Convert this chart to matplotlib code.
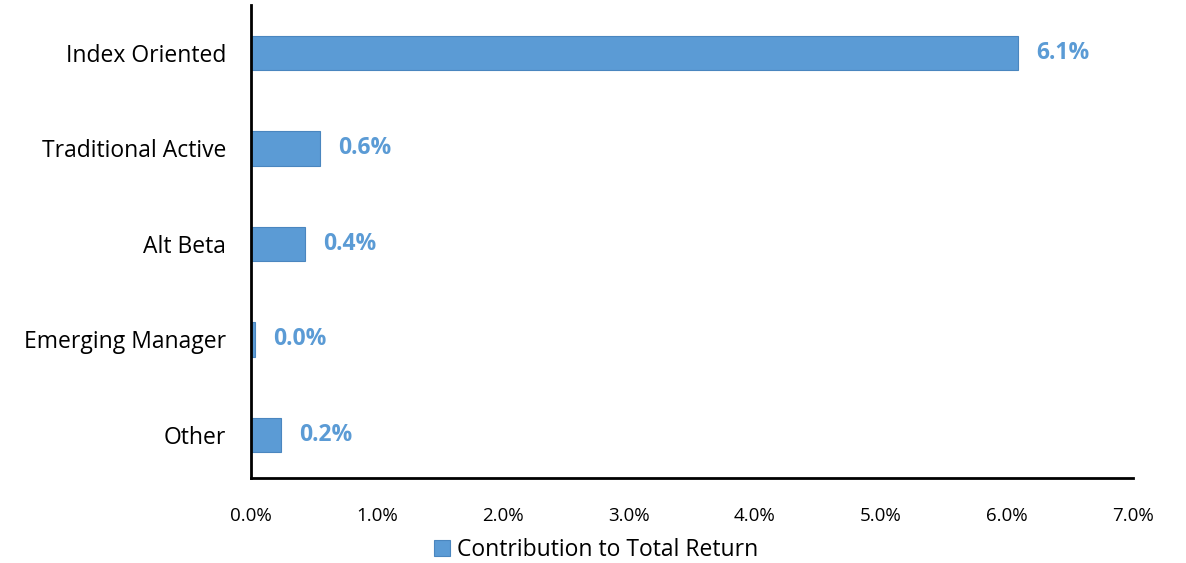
import matplotlib.pyplot as plt
from matplotlib.ticker import FuncFormatter

plt.rcParams['font.family'] = ['Open Sans', 'DejaVu Sans']

categories = ['Index Oriented', 'Traditional Active', 'Alt Beta', 'Emerging Manager', 'Other']
values = [6.09, 0.55, 0.43, 0.03, 0.24]
labels = ['6.1%', '0.6%', '0.4%', '0.0%', '0.2%']

blue = '#5B9BD5'

fig = plt.figure(figsize=(11.86, 5.63), dpi=100)
ax = fig.add_axes([0.2116, 0.151, 0.7437, 0.84])

pos = list(range(len(categories)))[::-1]
bars = ax.barh(pos, values, height=0.36, color=blue, edgecolor='#4A86BF',
               linewidth=0.8, label='Contribution to Total Return')

for b, lab in zip(bars, labels):
    ax.annotate(lab, (b.get_width(), b.get_y() + b.get_height() / 2),
                xytext=(13, 0), textcoords='offset points', va='center', ha='left',
                color=blue, fontsize=16.5, fontweight='bold')

ax.set_yticks(pos)
ax.set_yticklabels(categories, fontsize=16.5)
ax.set_ylim(-0.45, 4.5)
ax.set_xlim(0, 7)
ax.set_xticks(range(8))
ax.xaxis.set_major_formatter(FuncFormatter(lambda v, p: f'{v:.1f}%'))
ax.tick_params(axis='x', labelsize=13.5, length=0, pad=21)
ax.tick_params(axis='y', length=0, pad=18)

for s in ['top', 'right']:
    ax.spines[s].set_visible(False)
for s in ['left', 'bottom']:
    ax.spines[s].set_linewidth(2)
    ax.spines[s].set_color('black')

ax.legend(loc='upper center', bbox_to_anchor=(0.391, -0.094), frameon=False,
          fontsize=16.5, handlelength=0.7, handleheight=0.7, handletextpad=0.3,
          borderpad=0.2)

fig.savefig('out.png', dpi=100)
